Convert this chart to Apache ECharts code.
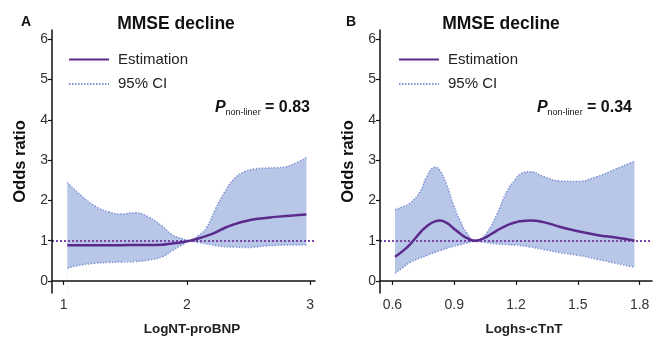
<!DOCTYPE html>
<html>
<head>
<meta charset="utf-8">
<script src="https://cdn.jsdelivr.net/npm/echarts@6/dist/echarts.min.js"></script>
<style>
  html, body { margin: 0; padding: 0; background: #fff; }
  #chart { width: 661px; height: 341px; }
</style>
</head>
<body>
<div id="chart"></div>
<script>
// Panel A: LogNT-proBNP
const xA   = [1.03, 1.15, 1.26, 1.37, 1.47, 1.58, 1.69, 1.80, 1.88, 1.96, 2.03, 2.10, 2.16, 2.23, 2.31, 2.39, 2.47, 2.55, 2.64, 2.72, 2.80, 2.88, 2.97];
const estA = [0.885, 0.885, 0.885, 0.887, 0.888, 0.89, 0.89, 0.90, 0.93, 0.96, 1.0, 1.06, 1.12, 1.20, 1.32, 1.41, 1.48, 1.53, 1.56, 1.59, 1.61, 1.63, 1.65];
const upA  = [2.44, 2.10, 1.85, 1.71, 1.66, 1.69, 1.58, 1.36, 1.15, 1.05, 1.01, 1.14, 1.32, 1.77, 2.22, 2.55, 2.71, 2.78, 2.80, 2.81, 2.83, 2.92, 3.06];
const lowA = [0.32, 0.40, 0.44, 0.46, 0.47, 0.48, 0.52, 0.60, 0.75, 0.89, 0.98, 0.95, 0.92, 0.88, 0.85, 0.84, 0.83, 0.84, 0.87, 0.88, 0.89, 0.89, 0.89];

// Panel B: Loghs-cTnT
const xB   = [0.613, 0.65, 0.686, 0.735, 0.767, 0.807, 0.83, 0.864, 0.896, 0.93, 0.96, 1.0, 1.03, 1.06, 1.107, 1.156, 1.196, 1.22, 1.27, 1.334, 1.415, 1.496, 1.593, 1.69, 1.775];
const estB = [0.60, 0.74, 0.91, 1.20, 1.36, 1.48, 1.50, 1.44, 1.31, 1.17, 1.07, 1.0, 1.03, 1.10, 1.25, 1.38, 1.45, 1.48, 1.50, 1.46, 1.34, 1.24, 1.14, 1.07, 1.0];
const upB  = [1.77, 1.84, 1.93, 2.22, 2.59, 2.82, 2.75, 2.38, 1.89, 1.48, 1.20, 1.01, 1.05, 1.20, 1.65, 2.22, 2.51, 2.65, 2.71, 2.59, 2.48, 2.47, 2.59, 2.79, 2.97];
const lowB = [0.19, 0.33, 0.46, 0.57, 0.63, 0.71, 0.75, 0.81, 0.86, 0.90, 0.94, 0.98, 0.97, 0.95, 0.92, 0.90, 0.89, 0.88, 0.84, 0.78, 0.70, 0.64, 0.54, 0.43, 0.34];

const yTicks  = [0, 1, 2, 3, 4, 5, 6];
const xTicksA = [1, 2, 3];
const xTicksB = [0.6, 0.9, 1.2, 1.5, 1.8];
const pA = '0.83';
const pB = '0.34';

const FONT = 'Liberation Sans, Arial, sans-serif';
const PURPLE = '#5b2a8c';
const CI_BLUE = '#8093d4';
const BAND = '#b8c6e8';
const REF = '#7a45a6';

const zip = (xs, ys) => xs.map((x, i) => [x, ys[i]]);

// band = upper curve filled down to the axis, then lower curve filled white on top
function panelSeries(idx, xs, est, up, low) {
  return [
    {
      name: 'bandUp' + idx, type: 'line', xAxisIndex: idx, yAxisIndex: idx, z: 1,
      data: zip(xs, up), smooth: true, symbol: 'none', silent: true,
      lineStyle: { opacity: 0 },
      areaStyle: { color: BAND, opacity: 1, origin: 'start' }
    },
    {
      name: 'bandLow' + idx, type: 'line', xAxisIndex: idx, yAxisIndex: idx, z: 1,
      data: zip(xs, low), smooth: true, symbol: 'none', silent: true,
      lineStyle: { opacity: 0 },
      // white shadow hides the anti-aliased seam on the right edge
      areaStyle: { color: '#fff', opacity: 1, origin: 'start',
        shadowColor: '#fff', shadowBlur: 0, shadowOffsetX: 1 }
    },
    {
      name: '95% CI', type: 'line', xAxisIndex: idx, yAxisIndex: idx, z: 3,
      data: zip(xs, up), smooth: true, symbol: 'none', silent: true,
      lineStyle: { color: CI_BLUE, width: 1.5, type: [1.5, 1.5] }
    },
    {
      name: '95% CI', type: 'line', xAxisIndex: idx, yAxisIndex: idx, z: 3,
      data: zip(xs, low), smooth: true, symbol: 'none', silent: true,
      lineStyle: { color: CI_BLUE, width: 1.5, type: [1.5, 1.5] }
    },
    {
      name: 'Estimation', type: 'line', xAxisIndex: idx, yAxisIndex: idx, z: 5,
      data: zip(xs, est), smooth: true, symbol: 'none', silent: true,
      lineStyle: { color: PURPLE, width: 2.5 },
      itemStyle: { color: PURPLE },
      markLine: {
        symbol: 'none', silent: true, label: { show: false },
        lineStyle: { color: REF, width: 2, type: [2, 2] },
        data: [{ yAxis: 1 }]
      }
    }
  ];
}

function xAxisOf(idx, min, max, ticks, name, pad) {
  return {
    type: 'value', gridIndex: idx, min: min, max: max, z: 10,
    name: name, nameLocation: 'middle', nameGap: 29,
    nameTextStyle: { fontFamily: FONT, fontSize: 13.5, fontWeight: 'bold', color: '#222', padding: [0, 0, 0, pad] },
    axisLine: { show: true, lineStyle: { color: '#111', width: 1.5 } },
    axisTick: { show: true, length: 4, customValues: ticks, lineStyle: { color: '#111', width: 1.2 } },
    axisLabel: { customValues: ticks, fontFamily: FONT, fontSize: 14, color: '#333', margin: 5,
      formatter: v => String(v) },
    splitLine: { show: false }
  };
}

function yAxisOf(idx) {
  return {
    type: 'value', gridIndex: idx, min: -0.3, max: 6.23, z: 10,
    name: 'Odds ratio', nameLocation: 'middle', nameGap: 23,
    nameTextStyle: { fontFamily: FONT, fontSize: 16.5, fontWeight: 'bold', color: '#111' },
    axisLine: { show: true, lineStyle: { color: '#111', width: 1.5 } },
    axisTick: { show: true, length: 4, customValues: yTicks, lineStyle: { color: '#111', width: 1.2 } },
    axisLabel: { customValues: yTicks, fontFamily: FONT, fontSize: 14, color: '#333', margin: 4,
      formatter: v => String(v) },
    splitLine: { show: false }
  };
}

function legendOf(left) {
  return {
    left: left, top: 47, orient: 'vertical',
    itemWidth: 40, itemHeight: 14, itemGap: 9.4,
    selectedMode: false,
    data: ['Estimation', '95% CI'],
    itemStyle: { opacity: 0 },
    textStyle: { fontFamily: FONT, fontSize: 15, color: '#222', lineHeight: 14, padding: [0, 0, 0, 4] }
  };
}

function pText(right, y, val) {
  return {
    type: 'text', right: right, top: y,
    style: {
      text: '{p|P}{s|non-liner}{v| = ' + val + '}',
      rich: {
        p: { fontFamily: FONT, fontSize: 16, fontWeight: 'bold', fontStyle: 'italic', fill: '#111', verticalAlign: 'bottom' },
        s: { fontFamily: FONT, fontSize: 9, fill: '#111', verticalAlign: 'bottom', padding: [0, 0, -1, 0] },
        v: { fontFamily: FONT, fontSize: 16, fontWeight: 'bold', fill: '#111', verticalAlign: 'bottom' }
      }
    }
  };
}

const chart = echarts.init(document.getElementById('chart'), null, { renderer: 'canvas' });
chart.setOption({
  animation: false,
  backgroundColor: '#fff',
  title: [
    { text: 'MMSE decline', left: 171, top: 10, textAlign: 'center',
      textStyle: { fontFamily: FONT, fontSize: 17.5, fontWeight: 'bold', color: '#111' } },
    { text: 'MMSE decline', left: 496, top: 10, textAlign: 'center',
      textStyle: { fontFamily: FONT, fontSize: 17.5, fontWeight: 'bold', color: '#111' } },
    { text: 'A', left: 16, top: 10,
      textStyle: { fontFamily: FONT, fontSize: 14, fontWeight: 'bold', color: '#111' } },
    { text: 'B', left: 341, top: 10,
      textStyle: { fontFamily: FONT, fontSize: 14, fontWeight: 'bold', color: '#111' } }
  ],
  legend: [legendOf(63), legendOf(393)],
  grid: [
    { left: 52, top: 30, width: 263, height: 266 },
    { left: 380, top: 30, width: 272, height: 266 }
  ],
  xAxis: [
    xAxisOf(0, 0.906, 3.04, xTicksA, 'LogNT-proBNP', 17),
    xAxisOf(1, 0.54, 1.86, xTicksB, 'Loghs-cTnT', 16)
  ],
  yAxis: [yAxisOf(0), yAxisOf(1)],
  graphic: [
    pText(661 - 310, 100, pA),
    pText(661 - 632, 100, pB)
  ],
  series: [].concat(
    panelSeries(0, xA, estA, upA, lowA),
    panelSeries(1, xB, estB, upB, lowB)
  )
});
</script>
</body>
</html>
